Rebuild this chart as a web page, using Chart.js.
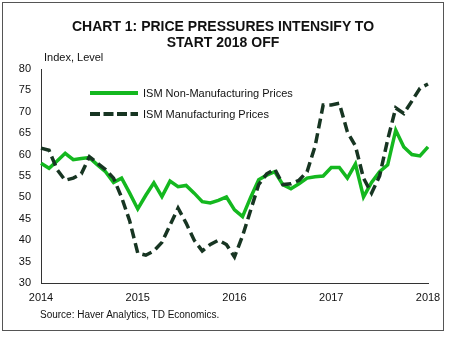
<!DOCTYPE html>
<html>
<head>
<meta charset="utf-8">
<script src="https://cdn.jsdelivr.net/npm/chart.js@4"></script>
<style>
  body { margin: 0; background: #fff; font-family: "Liberation Sans", Arial, sans-serif; }
  #wrap { position: relative; width: 450px; height: 340px; }
  #frame { position: absolute; left: 2px; top: 2px; width: 442px; height: 329px; border: 1px solid #555; box-sizing: border-box; }
  #chart { position: absolute; left: 0; top: 0; }
  .title { position: absolute; left: 0; width: 446px; text-align: center; font-weight: bold; font-size: 14px; color: #111; }
  .txt { position: absolute; color: #111; white-space: nowrap; }
  .sw { position: absolute; }
</style>
</head>
<body>
<div id="wrap">
  <div id="frame"></div>
  <canvas id="chart" width="450" height="340"></canvas>
  <div class="title" style="top:18px;">CHART 1: PRICE PRESSURES INTENSIFY TO</div>
  <div class="title" style="top:34px;">START 2018 OFF</div>
  <div class="txt" style="left:44px;top:51px;font-size:11px;">Index, Level</div>
  <svg class="sw" style="left:90px;top:90px;" width="50" height="6"><line x1="0" y1="3" x2="48" y2="3" stroke="#14b81f" stroke-width="4"/></svg>
  <div class="txt" style="left:143px;top:87px;font-size:11px;">ISM Non-Manufacturing Prices</div>
  <svg class="sw" style="left:90px;top:111px;" width="50" height="6"><line x1="0" y1="3" x2="48" y2="3" stroke="#173522" stroke-width="4" stroke-dasharray="10,3.5"/></svg>
  <div class="txt" style="left:143px;top:108px;font-size:11px;">ISM Manufacturing Prices</div>
  <div class="txt" style="left:40px;top:309px;font-size:10px;">Source: Haver Analytics, TD Economics.</div>
</div>
<script>
// monthly, Jan 2014 .. Jan 2018
var months = [];
for (var y = 2014; y <= 2018; y++) {
	for (var m = 1; m <= 12; m++) {
		if (y == 2018 && m > 1) break;
		months.push(y + '-' + (m < 10 ? '0' + m : m));
	}
}
var nonMfg = [
	58.0, 56.8, 58.5, 60.3, 58.8, 59.1, 59.3, 57.6, 56.0, 53.5, 54.5, 51.0,
	47.3, 50.5, 53.4, 50.2, 53.8, 52.5, 52.8, 51.0, 49.0, 48.7, 49.3, 50.1,
	47.1, 45.5, 50.0, 54.1, 55.2, 56.0, 53.0, 52.0, 53.2, 54.5, 54.8, 55.0,
	57.0, 57.0, 54.5, 57.8, 50.1, 53.5, 56.0, 57.6, 65.7, 61.8, 60.0, 59.7,
	61.8
];
var mfg = [
	61.5, 61.0, 56.5, 54.0, 54.5, 55.5, 59.5, 58.0, 56.5, 54.5, 50.0, 44.5,
	37.0, 36.5, 37.5, 39.5, 43.5, 47.5, 44.0, 40.0, 37.5, 39.0, 40.0, 39.0,
	36.1, 41.0, 47.0, 53.0, 55.5, 56.6, 53.0, 53.2, 54.0, 56.0, 62.0, 71.6,
	71.6, 72.0, 65.3, 62.0, 54.5, 51.0, 55.0, 63.5, 70.9, 69.6, 72.5, 75.5,
	76.5
];
var yearTicks = ['2014', '2015', '2016', '2017', '2018'];

var axisColor = '#333';
var tickFont = { family: '"Liberation Sans", Arial, sans-serif', size: 11 };

var chart = new Chart(document.getElementById('chart'), {
	type: 'line',
	data: {
		labels: months,
		datasets: [{
			label: 'ISM Manufacturing Prices',
			data: mfg,
			borderColor: '#173522',
			borderWidth: 3.5,
			borderDash: [10, 5],
			pointRadius: 0,
			tension: 0,
			fill: false
		}, {
			label: 'ISM Non-Manufacturing Prices',
			data: nonMfg,
			borderColor: '#14b81f',
			borderWidth: 3.5,
			pointRadius: 0,
			tension: 0,
			fill: false
		}]
	},
	options: {
		responsive: false,
		animation: false,
		layout: { padding: { left: 0, right: 22, top: 69, bottom: 0 } },
		plugins: { legend: { display: false }, tooltip: { enabled: false } },
		scales: {
			x: {
				offset: false,
				grid: { display: false, drawTicks: false },
				border: { color: axisColor, width: 1 },
				ticks: {
					autoSkip: false,
					maxRotation: 0,
					padding: 8,
					color: '#111',
					font: tickFont,
					callback: function (val, idx) {
						return idx % 12 == 0 ? yearTicks[idx / 12] : null;
					}
				},
				afterFit: function (scale) { scale.height = 57; }
			},
			y: {
				min: 30,
				max: 80,
				grid: { display: false, drawTicks: false },
				border: { color: axisColor, width: 1 },
				ticks: { stepSize: 5, padding: 10, color: '#111', font: tickFont },
				afterFit: function (scale) { scale.width = 41; }
			}
		}
	}
});
</script>
</body>
</html>
